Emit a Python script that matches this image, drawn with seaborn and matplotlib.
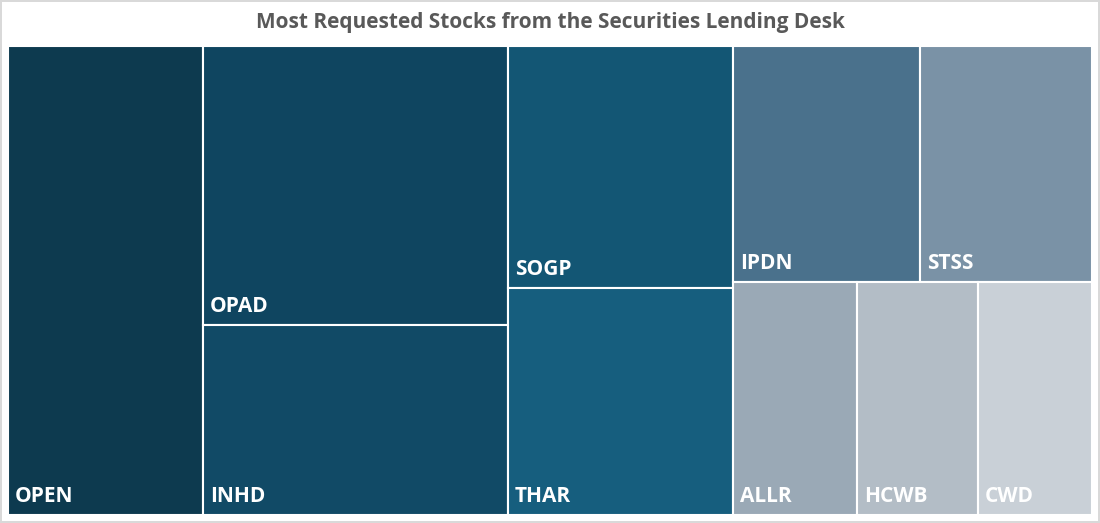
import matplotlib
matplotlib.use("Agg")
import matplotlib.pyplot as plt
from matplotlib.patches import Rectangle
import seaborn as sns

# tickers and their relative request volumes (read from tile areas)
tickers = ["OPEN", "OPAD", "INHD", "SOGP", "THAR", "IPDN", "STSS", "ALLR", "HCWB", "CWD"]
values = [91.5, 85.1, 58.0, 54.5, 51.1, 44.1, 40.6, 28.9, 28.2, 26.6]
colors = ["#0d3a4f", "#0f4560", "#114a66", "#135674", "#165e7e",
          "#4a718c", "#7a92a6", "#9aa9b6", "#b3bdc6", "#c9d0d7"]

# column grouping of the layout: each column is a list of rows, each row a list of tile indices
columns = [[[0]], [[1], [2]], [[3], [4]], [[5, 6], [7, 8, 9]]]

sns.set_theme(style="white")
plt.rcParams['font.family'] = ['Open Sans', 'DejaVu Sans']

fig = plt.figure(figsize=(11, 5.23), dpi=100)
fig.patch.set_edgecolor("#d9d9d9")
fig.patch.set_linewidth(1.5)
ax = fig.add_axes([8 / 1100, 8 / 523, 1084 / 1100, 469 / 523])
total = sum(values)
W, H = 1084.0, 469.0
x0 = 0.0
for col in columns:
    csum = sum(values[i] for row in col for i in row)
    cw = W * csum / total
    y0 = H
    for row in col:
        rsum = sum(values[i] for i in row)
        rh = H * rsum / csum
        xx = x0
        for i in row:
            w = cw * values[i] / rsum
            ax.add_patch(Rectangle((xx, y0 - rh), w, rh, facecolor=colors[i],
                                   edgecolor="white", linewidth=1.5))
            ax.annotate(tickers[i], (xx, y0 - rh), xytext=(5, 6), textcoords="offset points",
                        color="white", fontsize=15, fontweight="bold", ha="left", va="bottom")
            xx += w
        y0 -= rh
    x0 += cw

ax.set_xlim(0, W)
ax.set_ylim(0, H)
ax.axis("off")
fig.text(0.5, 0.957, "Most Requested Stocks from the Securities Lending Desk",
         ha="center", va="center", fontsize=15, fontweight="bold", color="#595959")
fig.savefig("out.png", dpi=100)
